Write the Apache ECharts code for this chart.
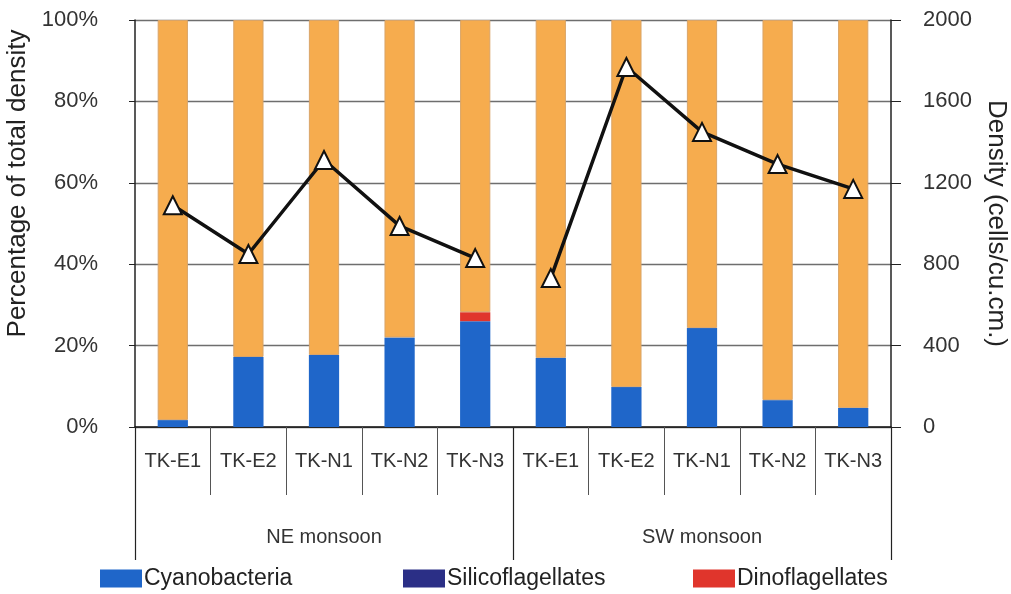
<!DOCTYPE html>
<html>
<head>
<meta charset="utf-8">
<script src="https://cdn.jsdelivr.net/npm/echarts@6/dist/echarts.min.js"></script>
<style>html,body{margin:0;padding:0;background:#fff}#c{width:1011px;height:594px}</style>
</head>
<body>
<div id="c"></div>
<script>
var seasons = ['NE monsoon', 'SW monsoon'];
var stations = ['TK-E1', 'TK-E2', 'TK-N1', 'TK-N2', 'TK-N3', 'TK-E1', 'TK-E2', 'TK-N1', 'TK-N2', 'TK-N3'];
var stationSeason = ['NE', 'NE', 'NE', 'NE', 'NE', 'SW', 'SW', 'SW', 'SW', 'SW'];
var cyanobacteria = [1.7, 17.2, 17.7, 22.0, 26.0, 17.0, 9.8, 24.3, 6.6, 4.7];
var silicoflagellates = [0, 0, 0, 0, 0, 0, 0, 0, 0, 0];
var dinoflagellates = [0, 0, 0, 0, 2.2, 0, 0, 0, 0, 0];
var diatoms = [98.3, 82.8, 82.3, 78.0, 71.8, 83.0, 90.2, 75.7, 93.4, 95.3];
var density = [1090, 850, 1312, 988, 830, 732, 1769, 1450, 1292, 1170];
var pctTicks = [0, 20, 40, 60, 80, 100];
var densTicks = [0, 400, 800, 1200, 1600, 2000];

var FONT = 'Liberation Sans, Arial, sans-serif';
var catData = stations.map(function (s, i) { return stationSeason[i] + '|' + s; });
function seasonLine(code) {
  return density.map(function (v, i) { return stationSeason[i] === code ? v : '-'; });
}
var lineStyleCommon = {
  type: 'line', xAxisIndex: 0, yAxisIndex: 1, z: 5,
  symbol: 'triangle', symbolSize: 18, connectNulls: false,
  lineStyle: {color: '#111', width: 3.5},
  itemStyle: {color: '#ffffff', borderColor: '#111', borderWidth: 2}
};
var legendText = {fontSize: 23, color: '#222', fontFamily: FONT, padding: [0, 0, 0, -3]};

var chart = echarts.init(document.getElementById('c'), null, {renderer: 'canvas'});
chart.setOption({
  backgroundColor: '#ffffff',
  animation: false,
  textStyle: {fontFamily: FONT},
  legend: [
    {data: ['Cyanobacteria'], left: 100, top: 567, padding: 0, itemWidth: 42, itemHeight: 18, icon: 'rect', textStyle: legendText},
    {data: ['Silicoflagellates'], left: 403, top: 567, padding: 0, itemWidth: 42, itemHeight: 18, icon: 'rect', textStyle: legendText},
    {data: ['Dinoflagellates'], left: 693, top: 567, padding: 0, itemWidth: 42, itemHeight: 18, icon: 'rect', textStyle: legendText}
  ],
  grid: {left: 135, right: 120, top: 20, bottom: 167, containLabel: false, outerBoundsMode: 'none'},
  xAxis: [
    {
      type: 'category', data: catData, position: 'bottom',
      axisLine: {show: true, lineStyle: {color: '#111', width: 1.5}},
      axisTick: {show: true, interval: 0, length: 68, alignWithLabel: false, lineStyle: {color: '#555', width: 1}},
      axisLabel: {interval: 0, margin: 24, fontSize: 20, color: '#333', fontFamily: FONT, hideOverlap: false,
        formatter: function (v) { return v.split('|')[1]; }},
      splitLine: {show: false}
    },
    {
      type: 'category', data: seasons, position: 'bottom',
      axisLine: {show: false},
      axisTick: {show: true, interval: 0, length: 133, alignWithLabel: false, lineStyle: {color: '#222', width: 1.2}},
      axisLabel: {interval: 0, margin: 100, fontSize: 20, color: '#333', fontFamily: FONT},
      splitLine: {show: false}
    }
  ],
  yAxis: [
    {
      type: 'value', min: 0, max: 100, interval: 20, position: 'left',
      name: 'Percentage of total density', nameLocation: 'middle', nameGap: 100, nameRotate: 90,
      nameTextStyle: {fontSize: 26, color: '#222', fontFamily: FONT, padding: [0, 0, 0, 80]},
      axisLine: {show: true, lineStyle: {color: '#222', width: 1.5}},
      axisTick: {show: true, length: 6, lineStyle: {color: '#222'}},
      axisLabel: {margin: 37, fontSize: 22, color: '#333', fontFamily: FONT,
        formatter: function (v) { return pctTicks.indexOf(v) >= 0 ? v + '%' : ''; }},
      splitLine: {show: true, lineStyle: {color: '#6e6e6e', width: 1.3}}
    },
    {
      type: 'value', min: 0, max: 2000, interval: 400, position: 'right',
      name: 'Density (cells/cu.cm.)', nameLocation: 'middle', nameGap: 88, nameRotate: -90,
      nameTextStyle: {fontSize: 26, color: '#222', fontFamily: FONT},
      axisLine: {show: true, lineStyle: {color: '#222', width: 1.5}},
      axisTick: {show: true, length: 10, lineStyle: {color: '#222'}},
      axisLabel: {margin: 32, fontSize: 22, color: '#333', fontFamily: FONT,
        formatter: function (v) { return densTicks.indexOf(v) >= 0 ? String(v) : ''; }},
      splitLine: {show: false}
    }
  ],
  series: [
    {name: 'Cyanobacteria', type: 'bar', stack: 'p', xAxisIndex: 0, yAxisIndex: 0, barWidth: '40%',
     itemStyle: {color: '#1F66C9'}, data: cyanobacteria},
    {name: 'Silicoflagellates', type: 'bar', stack: 'p', xAxisIndex: 0, yAxisIndex: 0, barWidth: '40%',
     itemStyle: {color: '#2B2F86'}, data: silicoflagellates},
    {name: 'Dinoflagellates', type: 'bar', stack: 'p', xAxisIndex: 0, yAxisIndex: 0, barWidth: '40%',
     itemStyle: {color: '#E0352C'}, data: dinoflagellates},
    {name: 'Diatoms', type: 'bar', stack: 'p', xAxisIndex: 0, yAxisIndex: 0, barWidth: '40%',
     itemStyle: {color: '#F6AC4E', borderColor: '#D9A468', borderWidth: 1}, data: diatoms},
    Object.assign({name: 'Density NE', data: seasonLine('NE')}, lineStyleCommon),
    Object.assign({name: 'Density SW', data: seasonLine('SW')}, lineStyleCommon)
  ]
});
</script>
</body>
</html>
